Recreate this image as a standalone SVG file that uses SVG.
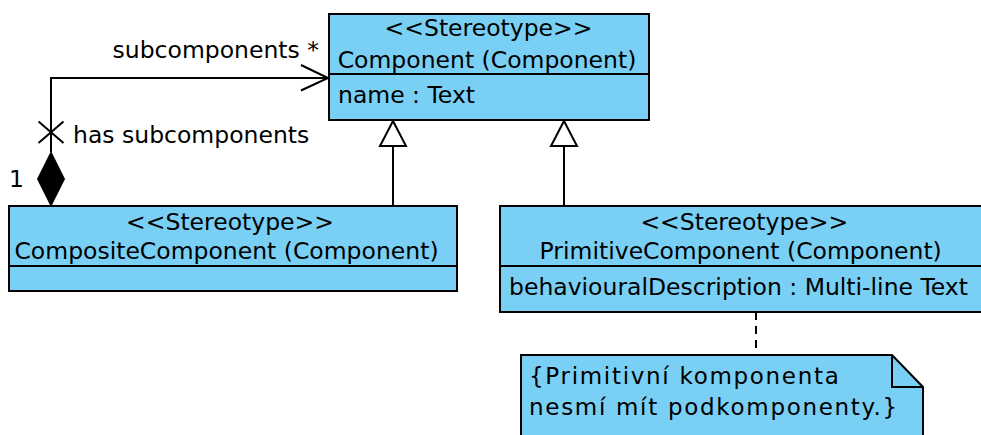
<svg xmlns="http://www.w3.org/2000/svg" width="981" height="435" viewBox="0 0 981 435">
<style>
text{font-family:"DejaVu Sans","Liberation Sans",sans-serif;font-size:23.5px;fill:#000}
.box{fill:#79cff4;stroke:#000;stroke-width:2}
.ln{fill:none;stroke:#000;stroke-width:2}
.m{text-anchor:middle}
.e{text-anchor:end}
.nt{font-size:23px;letter-spacing:1.7px}
</style>
<rect width="981" height="435" fill="#fff"/>
<g id="connectors">
<polyline class="ln" points="51,152 51,78 328,78"/>
<polyline class="ln" points="301,65 328,78 301,90.5"/>
<polygon points="51,152 64.5,179 51,206 37.5,179" fill="#000" stroke="#000" stroke-width="1"/>
<line class="ln" x1="38.5" y1="121.5" x2="63.5" y2="143"/>
<line class="ln" x1="63.5" y1="121.5" x2="38.5" y2="143"/>
<text class="e" x="319" y="58">subcomponents *</text>
<text x="73" y="143">has subcomponents</text>
<text x="9" y="187">1</text>
<line class="ln" x1="393" y1="146" x2="393" y2="206"/>
<polygon class="ln" points="393,121 406,146 380,146" style="fill:#fff"/>
<line class="ln" x1="564" y1="146" x2="564" y2="206"/>
<polygon class="ln" points="564,121 577,146 551,146" style="fill:#fff"/>
<line class="ln" x1="756" y1="312" x2="756" y2="355" stroke-dasharray="8,6"/>
</g>
<g id="component">
<rect class="box" x="329" y="14" width="320" height="106"/>
<line class="ln" x1="329" y1="74" x2="649" y2="74"/>
<text class="m" x="488.5" y="35.5">&lt;&lt;Stereotype&gt;&gt;</text>
<text class="m" x="487" y="68">Component (Component)</text>
<text x="338" y="103">name : Text</text>
</g>
<g id="composite">
<rect class="box" x="9" y="206" width="448" height="85"/>
<line class="ln" x1="9" y1="266" x2="457" y2="266"/>
<text class="m" x="230" y="230">&lt;&lt;Stereotype&gt;&gt;</text>
<text class="m" x="226.5" y="259">CompositeComponent (Component)</text>
</g>
<g id="primitive">
<rect class="box" x="500" y="206" width="484" height="106"/>
<line class="ln" x1="500" y1="266" x2="984" y2="266"/>
<text class="m" x="744.3" y="230">&lt;&lt;Stereotype&gt;&gt;</text>
<text class="m" x="740.7" y="259">PrimitiveComponent (Component)</text>
<text x="509" y="295">behaviouralDescription : Multi-line Text</text>
</g>
<g id="note">
<polygon class="box" points="521,355 892,355 923,387 923,440 521,440"/>
<polyline class="ln" points="892,355 892,387 923,387"/>
<text class="nt" x="529" y="384">{Primitivní komponenta</text>
<text class="nt" x="529" y="415">nesmí mít podkomponenty.}</text>
</g>
</svg>
